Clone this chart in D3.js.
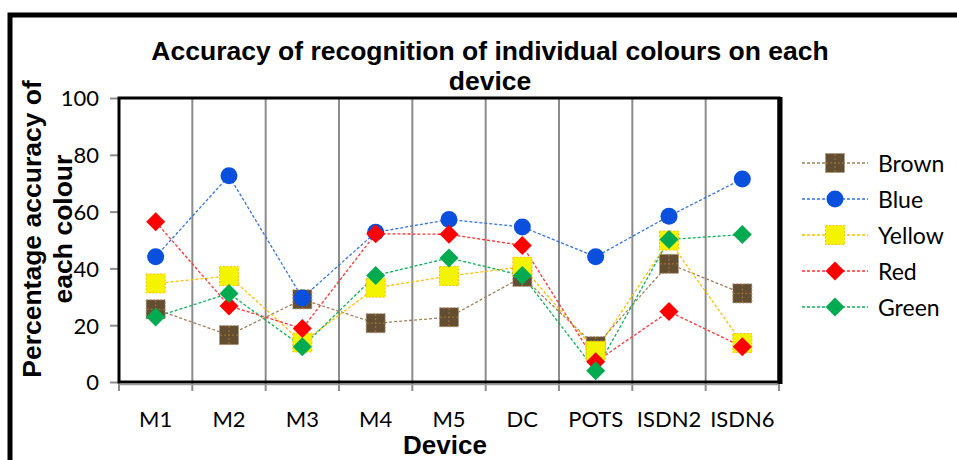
<!DOCTYPE html>
<html>
<head>
<meta charset="utf-8">
<script src="https://cdn.jsdelivr.net/npm/d3@7/dist/d3.min.js"></script>
<style>
  html, body { margin: 0; padding: 0; background: #fff; }
  svg { display: block; }
  .tick-label { font-family: Lato, "Open Sans", sans-serif; font-size: 22px; fill: #000; }
  .bold { font-family: "Liberation Sans", Arial, sans-serif; font-weight: bold; fill: #000; }
</style>
</head>
<body>
<div id="chart"></div>
<script>
const devices = ['M1', 'M2', 'M3', 'M4', 'M5', 'DC', 'POTS', 'ISDN2', 'ISDN6'];
const yTicks = [0, 20, 40, 60, 80, 100];

const brown  = [25.6, 16.5, 29.1, 20.7, 22.8, 37.0, 12.6, 41.6, 31.2];
const blue   = [44.1, 72.6, 29.6, 52.7, 57.2, 54.6, 44.1, 58.4, 71.5];
const yellow = [34.7, 37.3, 13.9, 33.2, 37.3, 40.6, 11.0, 49.8, 13.7];
const red    = [56.4, 26.8, 18.8, 52.2, 52.0, 48.1, 7.1, 24.8, 12.4];
const green  = [22.9, 31.2, 12.4, 37.5, 43.7, 37.5, 4.0, 50.2, 51.9];

const series = [
  { name: 'Brown',  values: brown,  shape: 'square',  fill: '#634e31', line: '#a0805a', edge: '#b09474' },
  { name: 'Blue',   values: blue,   shape: 'circle',  fill: '#0a50dc', line: '#3472e4', edge: '#0a50dc' },
  { name: 'Yellow', values: yellow, shape: 'square',  fill: '#f4f400', line: '#ffc000', edge: '#ffc000' },
  { name: 'Red',    values: red,    shape: 'diamond', fill: '#ff0000', line: '#ff3333', edge: '#ff0000' },
  { name: 'Green',  values: green,  shape: 'diamond', fill: '#00aa50', line: '#10b058', edge: '#00aa50' }
];

const W = 957, H = 460;
const plot = { left: 119, right: 779, top: 98, bottom: 382 };

const svg = d3.select('#chart').append('svg')
  .attr('width', W)
  .attr('height', H);

// outer chart frame (only top and left are visible in the crop)
svg.append('path')
  .attr('d', `M10,${H + 5} L10,15 L${W + 5},15`)
  .attr('fill', 'none')
  .attr('stroke', '#000')
  .attr('stroke-width', 5);

const x = d3.scaleBand().domain(devices).range([plot.left, plot.right]);
const y = d3.scaleLinear().domain([0, 100]).range([plot.bottom, plot.top]);

// vertical gridlines at band edges
const edges = devices.slice(1).map(d => x(d));
svg.append('g')
  .selectAll('line')
  .data(edges)
  .join('line')
  .attr('x1', d => d).attr('x2', d => d)
  .attr('y1', plot.top).attr('y2', plot.bottom)
  .attr('stroke', '#8c8c8c')
  .attr('stroke-width', 2);

// y axis
const yAxis = d3.axisLeft(y).tickValues(yTicks).tickSize(9).tickPadding(11);
const gy = svg.append('g')
  .attr('transform', `translate(${plot.left},0)`)
  .call(yAxis);
gy.select('.domain').remove();
gy.selectAll('.tick line').attr('stroke', '#8c8c8c').attr('stroke-width', 2);
gy.selectAll('.tick text')
  .attr('class', 'tick-label')
  .attr('font-family', null).attr('font-size', null)
  .attr('dy', '0.36em');

// x axis
const xAxis = d3.axisBottom(x).tickSize(0).tickPadding(0);
const gx = svg.append('g')
  .attr('transform', `translate(0,${plot.bottom})`)
  .call(xAxis);
gx.select('.domain').remove();
gx.selectAll('.tick line').remove();
gx.selectAll('.tick text')
  .attr('class', 'tick-label')
  .attr('font-family', null).attr('font-size', null)
  .attr('dy', null)
  .attr('y', 45);

// x tick marks at band edges
svg.append('g')
  .selectAll('line')
  .data([plot.left, ...edges, plot.right])
  .join('line')
  .attr('x1', d => d).attr('x2', d => d)
  .attr('y1', plot.bottom).attr('y2', plot.bottom + 9)
  .attr('stroke', '#8c8c8c')
  .attr('stroke-width', 2);

// plot frame
svg.append('rect')
  .attr('x', plot.left).attr('y', plot.top)
  .attr('width', plot.right - plot.left)
  .attr('height', plot.bottom - plot.top)
  .attr('fill', 'none')
  .attr('stroke', '#000')
  .attr('stroke-width', 3);
svg.append('line')
  .attr('x1', plot.right + 1).attr('x2', plot.right + 1)
  .attr('y1', plot.top - 1).attr('y2', plot.bottom + 2)
  .attr('stroke', '#000')
  .attr('stroke-width', 5);
svg.append('line')
  .attr('x1', plot.left).attr('x2', plot.right)
  .attr('y1', plot.bottom + 2.5).attr('y2', plot.bottom + 2.5)
  .attr('stroke', '#9a9a9a')
  .attr('stroke-width', 1.5);

// marker drawing
function drawMarker(g, s, cx, cy) {
  if (s.shape === 'circle') {
    g.append('circle')
      .attr('cx', cx).attr('cy', cy).attr('r', 8.5)
      .attr('fill', s.fill);
  } else if (s.shape === 'square') {
    g.append('rect')
      .attr('x', cx - 9.5).attr('y', cy - 9.5)
      .attr('width', 19).attr('height', 19)
      .attr('fill', s.fill)
      .attr('stroke', s.edge)
      .attr('stroke-width', 1)
      .attr('stroke-dasharray', '2,1.5');
    if (s.name === 'Brown') {
      g.append('path')
        .attr('d', `M${cx - 9},${cy} H${cx + 9} M${cx},${cy - 9} V${cy + 9}`)
        .attr('stroke', '#a07840')
        .attr('stroke-width', 1)
        .attr('stroke-dasharray', '2,2');
    }
  } else {
    const r = 9.5;
    g.append('path')
      .attr('d', `M${cx},${cy - r} L${cx + r},${cy} L${cx},${cy + r} L${cx - r},${cy} Z`)
      .attr('fill', s.fill);
  }
}

// series lines
const line = d3.line()
  .x((v, i) => x(devices[i]) + x.bandwidth() / 2)
  .y(v => y(v));

svg.append('g')
  .selectAll('path')
  .data(series)
  .join('path')
  .attr('d', s => line(s.values))
  .attr('fill', 'none')
  .attr('stroke', s => s.line)
  .attr('stroke-width', 1.3)
  .attr('stroke-dasharray', '3,2');

// series markers
const markers = svg.append('g');
series.forEach(s => {
  const g = markers.append('g');
  s.values.forEach((v, i) => drawMarker(g, s, x(devices[i]) + x.bandwidth() / 2, y(v)));
});

// legend
const legend = svg.append('g');
series.forEach((s, i) => {
  const cy = 163 + i * 36;
  legend.append('line')
    .attr('x1', 802).attr('x2', 868)
    .attr('y1', cy).attr('y2', cy)
    .attr('stroke', s.line)
    .attr('stroke-width', 1.3)
    .attr('stroke-dasharray', '3,2');
  drawMarker(legend.append('g'), s, 835, cy);
  legend.append('text')
    .attr('class', 'tick-label')
    .attr('x', 878).attr('y', cy + 8.5)
    .style('font-size', '23px')
    .text(s.name);
});

// title
const title = svg.append('text')
  .attr('class', 'bold')
  .attr('text-anchor', 'middle')
  .style('font-size', '26.5px');
title.append('tspan').attr('x', 490).attr('y', 60)
  .text('Accuracy of recognition of individual colours on each');
title.append('tspan').attr('x', 490).attr('y', 90)
  .text('device');

// y axis title
const yTitle = svg.append('text')
  .attr('class', 'bold')
  .attr('text-anchor', 'middle')
  .attr('transform', 'translate(0,229) rotate(-90)')
  .style('font-size', '26.5px');
yTitle.append('tspan').attr('x', 0).attr('y', 41).text('Percentage accuracy of');
yTitle.append('tspan').attr('x', 0).attr('y', 72).text('each colour');

// x axis title
svg.append('text')
  .attr('class', 'bold')
  .attr('text-anchor', 'middle')
  .attr('x', 445).attr('y', 454)
  .style('font-size', '26px')
  .text('Device');
</script>
</body>
</html>
